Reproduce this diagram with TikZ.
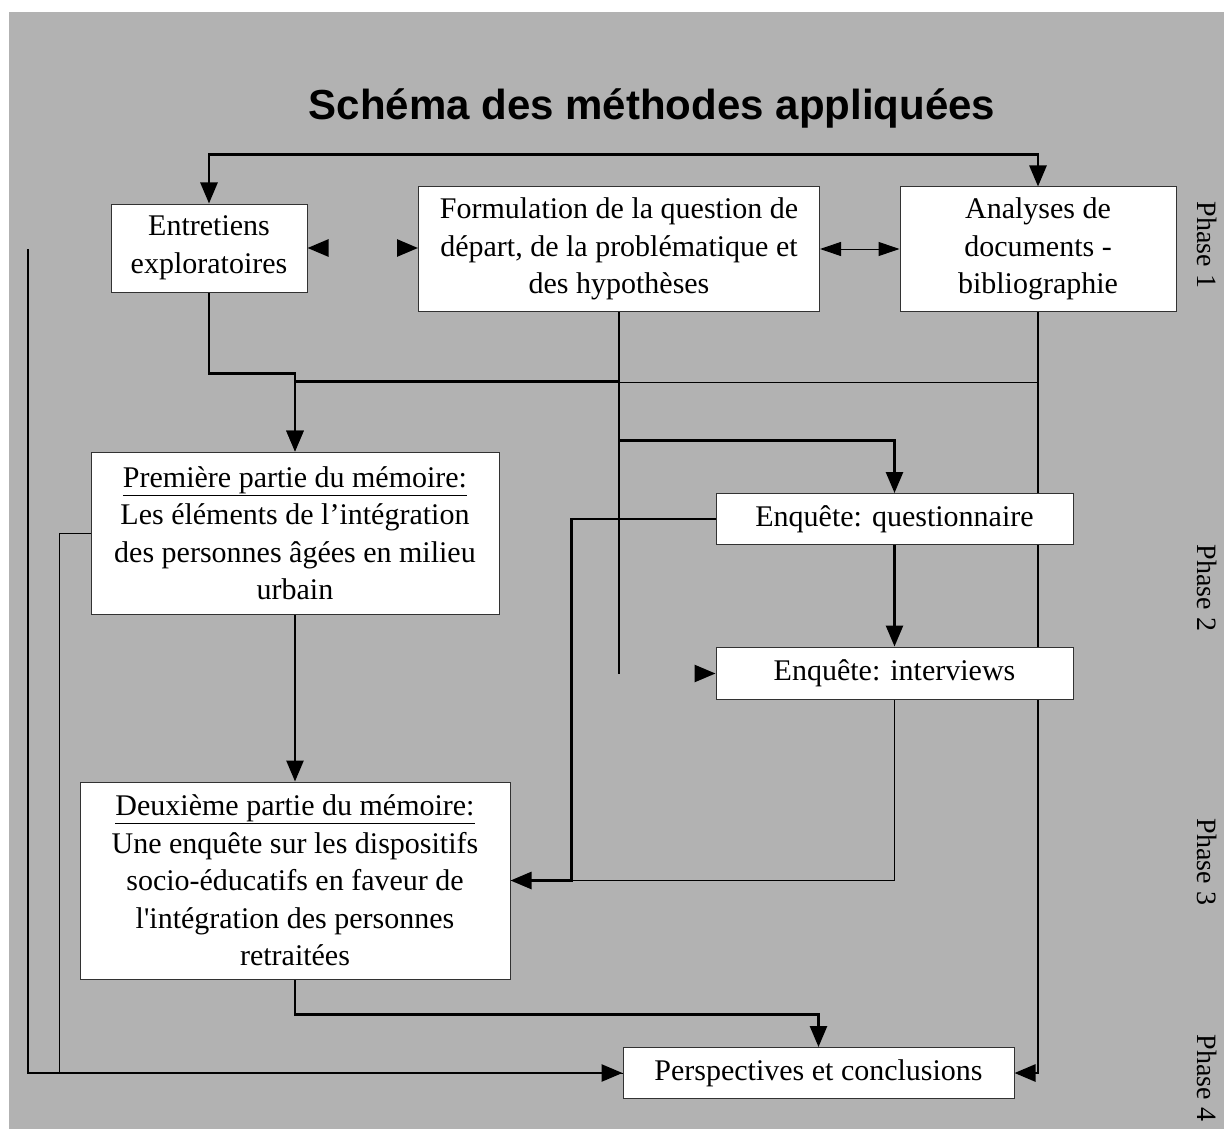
\documentclass[tikz,border=0pt]{standalone}
\usepackage{fontspec}
\setmainfont{Liberation Serif}
\newfontfamily\titlefont{Liberation Sans}
\usepackage{tikz}
\usetikzlibrary{arrows.meta, backgrounds}
\definecolor{bggray}{RGB}{178, 178, 178}
\definecolor{boxline}{RGB}{50, 50, 50}

\begin{document}
\begin{tikzpicture}[x=1pt, y=-1pt,
    box/.style={draw=boxline, line width=1pt, fill=white, align=center, inner sep=0pt, font=\fontsize{30}{37.5}\selectfont},
    phase/.style={rotate=-90, font=\fontsize{28}{30}\selectfont},
    link/.style={line width=2.6pt},
    thinlink/.style={line width=1pt},
    arrow/.style={link, -{Triangle[length=21pt, width=17pt]}},
    twoway/.style={link, {Triangle[length=21pt, width=17pt]}-{Triangle[length=21pt, width=17pt]}},
    thintwoway/.style={thinlink, {Triangle[length=21pt, width=14pt]}-{Triangle[length=21pt, width=14pt]}},
    tiponly/.style={dash pattern=on 0pt off 2000pt}
]
    \useasboundingbox (0,0) rectangle (1224,1129);

    % Title
    \node[anchor=base, font=\titlefont\bfseries\fontsize{42}{50}\selectfont] (title) at (652,120) {Schéma des méthodes appliquées};

    % Phase 1
    \node[box, minimum width=196pt, minimum height=88pt] (entretiens) at (209,248) {Entretiens\\exploratoires};
    \node[box, minimum width=401pt, minimum height=124pt] (formulation) at (619,249) {Formulation de la question de\\départ, de la problématique et\\des hypothèses};
    \node[box, minimum width=276pt, minimum height=124pt] (analyses) at (1038,249) {Analyses de\\documents -\\bibliographie};

    % Phase 2
    \node[box, minimum width=408pt, minimum height=162pt] (partone) at (295,533) {\underline{Première partie du mémoire:}\\Les éléments de l’intégration\\des personnes âgées en milieu\\urbain};
    \node[box, minimum width=357pt, minimum height=51pt] (questionnaire) at (894.5,519) {Enquête: questionnaire};
    \node[box, minimum width=357pt, minimum height=52pt] (interviews) at (894.5,673) {Enquête: interviews};

    % Phase 3 and 4
    \node[box, minimum width=430pt, minimum height=197pt] (parttwo) at (295,880.5) {\underline{Deuxième partie du mémoire:}\\Une enquête sur les dispositifs\\socio-éducatifs en faveur de\\l\textquotesingle intégration des personnes\\retraitées};
    \node[box, minimum width=391pt, minimum height=51pt] (conclusions) at (818.5,1073) {Perspectives et conclusions};

    % Phase labels
    \node[phase] (phaseone) at (1207,245) {Phase 1};
    \node[phase] (phasetwo) at (1207,588) {Phase 2};
    \node[phase] (phasethree) at (1207,862) {Phase 3};
    \node[phase] (phasefour) at (1207,1078) {Phase 4};

    \coordinate (leftstart) at (28,249);

    \begin{scope}[on background layer]
    \fill[white] (0,0) rectangle (1224,1129);
    \fill[bggray] (9,12) rectangle (1224,1129);

    % thin links
    \draw[thintwoway] (formulation.east) -- (analyses.west);
    \draw[thinlink] (analyses.south) ++(0,71) coordinate (abranch) -- (abranch -| formulation.south);
    \draw[thinlink] (interviews.south) |- (parttwo.east);
    \draw[thinlink] (partone.west) -- ++(-31,0) |- (conclusions.west);

    % thick links
    \draw[twoway] (entretiens.north) -- ++(0,-49) -| (analyses.north);
    \draw[twoway, tiponly] (entretiens.east) -- (entretiens.east -| formulation.west);
    \draw[arrow] (entretiens.south) -- ++(0,81) -| (partone.north);
    \draw[arrow] (formulation.south) -- ++(0,70) -| (partone.north);
    \draw[link] (formulation.south) -- ++(0,362) coordinate (trunkend);
    \draw[arrow] (formulation.south) ++(0,129) -| (questionnaire.north);
    \draw[arrow, tiponly] (trunkend) -- (trunkend -| interviews.west);
    \draw[arrow] (questionnaire.south) -- (interviews.north);
    \draw[arrow] (questionnaire.west) -- ++(-144,0) |- (parttwo.east);
    \draw[arrow] (analyses.south) |- (conclusions.east);
    \draw[arrow] (partone.south) -- (parttwo.north);
    \draw[arrow] (parttwo.south) -- ++(0,35) -| (conclusions.north);
    \draw[arrow] (leftstart) |- (conclusions.west);
    \end{scope}
\end{tikzpicture}
\end{document}
